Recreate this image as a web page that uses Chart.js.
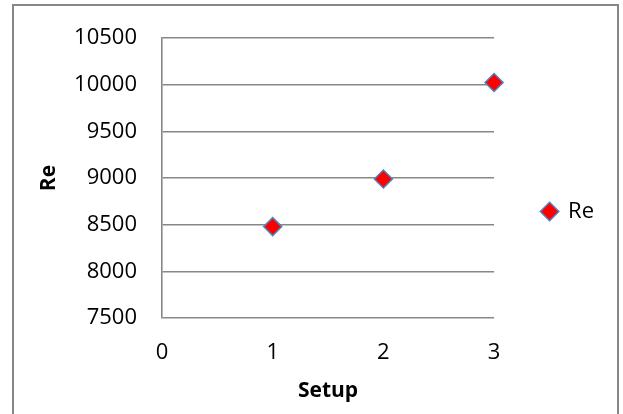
<!DOCTYPE html>
<html>
<head>
<meta charset="utf-8">
<script src="https://cdn.jsdelivr.net/npm/chart.js@4/dist/chart.umd.min.js"></script>
<style>
  html, body { margin: 0; padding: 0; background: #fff; }
  #wrap { position: relative; width: 623px; height: 414px; overflow: hidden; }
  #frame { position: absolute; left: 12px; top: 4px; width: 603px; height: 430px; border: 2px solid #878787; box-sizing: content-box; }
  #chart { position: absolute; left: 0; top: 0; }
</style>
</head>
<body>
<div id="wrap">
  <div id="frame"></div>
  <canvas id="chart" width="623" height="414"></canvas>
</div>
<script>
// Reynolds number measured for each setup
const seriesName = 'Re';
const setups = [1, 2, 3];
const reValues = [8480, 8990, 10025];

// axis ranges and tick steps
const xRange = [0, 3];
const xStep = 1;
const yRange = [7500, 10500];
const yStep = 500;

const xTitle = 'Setup';
const yTitle = 'Re';

const FONT = '"Open Sans", "Liberation Sans", sans-serif';
const GRID = '#878787';

const points = setups.map((s, i) => ({ x: s, y: reValues[i] }));
const plainNumber = (v) => String(v);

new Chart(document.getElementById('chart'), {
  type: 'scatter',
  data: {
    datasets: [{
      label: seriesName,
      data: points,
      pointStyle: 'rectRot',
      pointRadius: 9,
      pointHoverRadius: 9,
      pointBackgroundColor: '#ff0000',
      pointBorderColor: '#4f81bd',
      pointBorderWidth: 1.5,
      backgroundColor: '#ff0000',
      borderColor: '#4f81bd',
      clip: false
    }]
  },
  options: {
    responsive: false,
    devicePixelRatio: 1,
    animation: false,
    events: [],
    layout: { padding: { left: 20, top: 9, right: 19, bottom: 0 } },
    plugins: {
      tooltip: { enabled: false },
      // empty spacer above the plot only (legend keeps the full height)
      title: { display: true, text: '', fullSize: false, padding: { top: 14, bottom: 0 }, font: { size: 10 } },
      legend: {
        position: 'right',
        labels: {
          usePointStyle: true,
          boxWidth: 15,
          boxHeight: 13,
          padding: 48,
          color: '#000',
          font: { family: FONT, size: 22 }
        }
      }
    },
    scales: {
      x: {
        type: 'linear',
        min: xRange[0],
        max: xRange[1],
        ticks: { stepSize: xStep, color: '#000', padding: 22, font: { family: FONT, size: 22 }, callback: plainNumber },
        grid: { display: false, drawTicks: false },
        border: { display: false },
        title: { display: true, text: xTitle, color: '#000', padding: { top: 0, bottom: 10 }, font: { family: FONT, size: 21, weight: 'bold' } },
        afterFit(scale) { scale.height = 96; }
      },
      y: {
        type: 'linear',
        min: yRange[0],
        max: yRange[1],
        ticks: { stepSize: yStep, color: '#000', padding: 25, font: { family: FONT, size: 22 }, callback: plainNumber },
        grid: { color: GRID, lineWidth: 1.6, drawTicks: false },
        border: { display: true, color: GRID, width: 1.6 },
        title: { display: true, text: yTitle, color: '#000', padding: { top: 16, bottom: 0 }, font: { family: FONT, size: 21, weight: 'bold' } },
        afterFit(scale) { scale.width = 142; }
      }
    }
  }
});
</script>
</body>
</html>
